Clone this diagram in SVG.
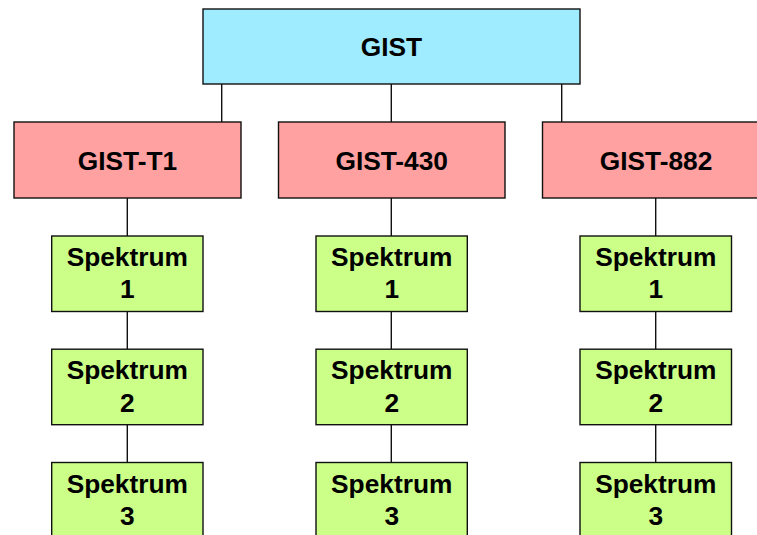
<svg xmlns="http://www.w3.org/2000/svg" width="757" height="535" viewBox="0 0 757 535">
<style>
rect{stroke:#111;stroke-width:1.4}
.top{fill:#9FEBFF}
.mid{fill:#FFA1A1}
.leaf{fill:#CCFF88}
text{font-family:"Liberation Sans",Arial,sans-serif;font-weight:bold;font-size:26.3px;fill:#000;text-anchor:middle}
#connectors line{stroke:#111;stroke-width:1.4}
</style>
<rect width="757" height="535" fill="#fff" style="stroke:none"/>
<g id="connectors">
<line x1="221.7" y1="84" x2="221.7" y2="122"/>
<line x1="391.3" y1="84" x2="391.3" y2="122"/>
<line x1="561.7" y1="84" x2="561.7" y2="122"/>
<line x1="127.3" y1="198" x2="127.3" y2="236"/>
<line x1="127.3" y1="311" x2="127.3" y2="349"/>
<line x1="127.3" y1="425" x2="127.3" y2="462"/>
<line x1="391.3" y1="198" x2="391.3" y2="236"/>
<line x1="391.3" y1="311" x2="391.3" y2="349"/>
<line x1="391.3" y1="425" x2="391.3" y2="462"/>
<line x1="655.7" y1="198" x2="655.7" y2="236"/>
<line x1="655.7" y1="311" x2="655.7" y2="349"/>
<line x1="655.7" y1="425" x2="655.7" y2="462"/>
</g>
<g id="gist"><rect class="top" x="203" y="9" width="377" height="75"/><text x="391.5" y="55.5">GIST</text></g>
<g id="gist-t1"><rect class="mid" x="14" y="122" width="227" height="76"/><text x="127.5" y="169.5">GIST-T1</text></g>
<g id="gist-430"><rect class="mid" x="278.5" y="122" width="226.5" height="76"/><text x="391.7" y="169.5">GIST-430</text></g>
<g id="gist-882"><rect class="mid" x="542.5" y="122" width="227" height="76"/><text x="656" y="169.5">GIST-882</text></g>
<g id="t1-s1"><rect class="leaf" x="51.7" y="236" width="151.3" height="75.5"/><text x="127.3" y="266">Spektrum</text><text x="127.3" y="298.3">1</text></g>
<g id="t1-s2"><rect class="leaf" x="51.7" y="349.2" width="151.3" height="75.5"/><text x="127.3" y="379.3">Spektrum</text><text x="127.3" y="411.7">2</text></g>
<g id="t1-s3"><rect class="leaf" x="51.7" y="462.5" width="151.3" height="75.5"/><text x="127.3" y="492.7">Spektrum</text><text x="127.3" y="525">3</text></g>
<g id="430-s1"><rect class="leaf" x="316" y="236" width="151.3" height="75.5"/><text x="391.7" y="266">Spektrum</text><text x="391.7" y="298.3">1</text></g>
<g id="430-s2"><rect class="leaf" x="316" y="349.2" width="151.3" height="75.5"/><text x="391.7" y="379.3">Spektrum</text><text x="391.7" y="411.7">2</text></g>
<g id="430-s3"><rect class="leaf" x="316" y="462.5" width="151.3" height="75.5"/><text x="391.7" y="492.7">Spektrum</text><text x="391.7" y="525">3</text></g>
<g id="882-s1"><rect class="leaf" x="580" y="236" width="151.5" height="75.5"/><text x="655.8" y="266">Spektrum</text><text x="655.8" y="298.3">1</text></g>
<g id="882-s2"><rect class="leaf" x="580" y="349.2" width="151.5" height="75.5"/><text x="655.8" y="379.3">Spektrum</text><text x="655.8" y="411.7">2</text></g>
<g id="882-s3"><rect class="leaf" x="580" y="462.5" width="151.5" height="75.5"/><text x="655.8" y="492.7">Spektrum</text><text x="655.8" y="525">3</text></g>
</svg>
